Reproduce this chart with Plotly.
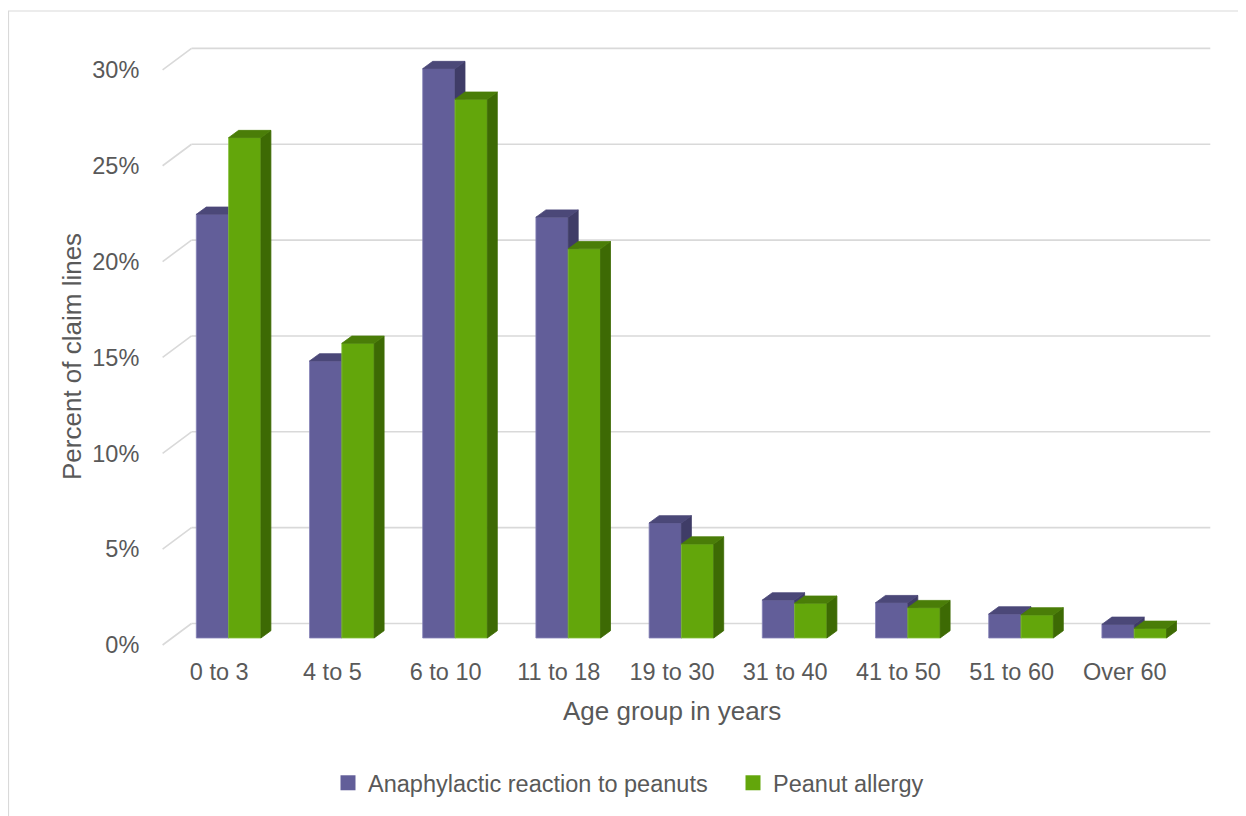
import plotly.graph_objects as go

# ---------------- data ----------------
categories = ["0 to 3", "4 to 5", "6 to 10", "11 to 18", "19 to 30",
              "31 to 40", "41 to 50", "51 to 60", "Over 60"]
anaphylaxis = [22.1, 14.45, 29.7, 21.95, 6.0, 1.98, 1.84, 1.25, 0.71]
peanut_allergy = [26.1, 15.37, 28.1, 20.3, 4.9, 1.81, 1.58, 1.2, 0.5]
y_ticks = [0, 5, 10, 15, 20, 25, 30]
series_names = ["Anaphylactic reaction to peanuts", "Peanut allergy"]

# ---------------- geometry ----------------
# page pixels; the html body has an 8px margin, so the figure starts at (8, 8)
PAGE_W, PAGE_H = 1246, 816
OFF = 8
W, H = PAGE_W - OFF, PAGE_H - OFF        # figure size


def fx(p):   # page x px -> figure x px
    return p - OFF


def fy(p):   # page y px -> figure y px
    return p - OFF


L, R, T, B = 150, 1230, 30, 655          # plot area in page px
CAT0, CATW = 228.6, 113.2                # page px of first category centre, px per category
BASE, PPP = 638.0, 19.17                 # page px of 0% on bar plane, px per percent


def px2x(p):
    return (p - CAT0) / CATW


def py2y(p):
    return (BASE - p) / PPP


x_range = [px2x(L), px2x(R)]
y_range = [py2y(B), py2y(T)]
pw, ph = R - L, B - T


def ppx(p):  # page x px -> paper x
    return (p - L) / pw


def ppy(p):  # page y px -> paper y
    return (B - p) / ph


# 3D offsets
DX, DY = 10 / CATW, 7.3 / PPP            # bar depth
BACK_DX, BACK_DY = 19.5 / CATW, 14.5 / PPP
FRONT_DX, FRONT_DY = -9.4 / CATW, -7.0 / PPP
BAR_W = 32.3 / CATW

FONT = "Liberation Sans, Arial, sans-serif"
TXT = "#595959"
GRID = "#d9d9d9"

colors = {
    0: dict(front="#625E99", top="#4B4878", side="#3F3C67", edge="#8683B8"),
    1: dict(front="#63A60B", top="#4A7D08", side="#3D6A04", edge="#86C03E"),
}


def faces(values, off0, off1):
    fxs, fys, sx, sy, tx, ty = [], [], [], [], [], []
    for i, v in enumerate(values):
        x0, x1 = i + off0, i + off1
        fxs += [x0, x1, x1, x0, x0, None]
        fys += [0, 0, v, v, 0, None]
        sx += [x1, x1 + DX, x1 + DX, x1, x1, None]
        sy += [0, DY, v + DY, v, 0, None]
        tx += [x0, x1, x1 + DX, x0 + DX, x0, None]
        ty += [v, v, v + DY, v + DY, v, None]
    return (fxs, fys), (sx, sy), (tx, ty)


fig = go.Figure()

for k, (vals, offs) in enumerate([(anaphylaxis, (-BAR_W, 0.0)),
                                   (peanut_allergy, (0.0, BAR_W))]):
    c = colors[k]
    front, side, top = faces(vals, *offs)
    for (xs, ys), fc, lc in [(front, c["front"], c["edge"]),
                             (side, c["side"], c["side"]),
                             (top, c["top"], c["top"])]:
        fig.add_trace(go.Scatter(
            x=xs, y=ys, mode="lines", fill="toself", fillcolor=fc,
            line=dict(color=lc, width=0.8), showlegend=False,
            hoverinfo="skip"))

# legend entries
for k, name in enumerate(series_names):
    fig.add_trace(go.Scatter(
        x=[None], y=[None], mode="markers", name=name,
        marker=dict(symbol="square", size=15, color=colors[k]["front"])))

# back-wall gridlines and floor diagonals
shapes = []
n = len(categories)
for t in y_ticks:
    yb = t + BACK_DY
    yf = t + FRONT_DY
    shapes.append(dict(type="line", xref="x", yref="y", layer="below",
                       x0=-0.5 + BACK_DX, x1=n - 0.5 + BACK_DX, y0=yb, y1=yb,
                       line=dict(color=GRID, width=1.6)))
    shapes.append(dict(type="line", xref="x", yref="y", layer="below",
                       x0=-0.5 + BACK_DX, x1=-0.5 + FRONT_DX, y0=yb, y1=yf,
                       line=dict(color=GRID, width=1.6)))

# chart border
shapes.append(dict(type="rect", xref="paper", yref="paper", layer="below",
                   x0=ppx(8.5), x1=ppx(PAGE_W + 5),
                   y0=ppy(PAGE_H + 5), y1=ppy(11),
                   line=dict(color=GRID, width=1.2)))

fig.update_layout(
    width=W, height=H,
    margin=dict(l=fx(L), r=W - fx(R), t=fy(T), b=H - fy(B)),
    paper_bgcolor="white", plot_bgcolor="white",
    font=dict(family=FONT, color=TXT, size=23.5),
    showlegend=True,
    legend=dict(orientation="h", xref="container", yref="container",
                x=fx(328) / W, y=1 - fy(783) / H, xanchor="left", yanchor="middle",
                entrywidth=360, entrywidthmode="pixels",
                font=dict(size=23.5, color=TXT), itemclick=False),
    xaxis=dict(range=x_range, showgrid=False, zeroline=False, showline=False,
               tickmode="array", tickvals=[i + FRONT_DX for i in range(n)],
               ticktext=categories, ticks="", tickfont=dict(size=23.5, color=TXT)),
    yaxis=dict(range=y_range, showgrid=False, zeroline=False, showline=False,
               tickmode="array", tickvals=[t + FRONT_DY for t in y_ticks],
               ticktext=[f"{t}%" for t in y_ticks], ticks="outside", ticklen=5,
               tickcolor="rgba(0,0,0,0)", tickfont=dict(size=23.5, color=TXT)),
    shapes=shapes,
    annotations=[
        dict(text="Age group in years", xref="paper", yref="paper",
             x=ppx(672), y=ppy(711), xanchor="center", yanchor="middle",
             showarrow=False, font=dict(size=26, color=TXT)),
        dict(text="Percent of claim lines", xref="paper", yref="paper",
             x=ppx(72), y=ppy(357), xanchor="center", yanchor="middle",
             textangle=-90, showarrow=False, font=dict(size=26, color=TXT)),
    ],
)

fig.write_html("out.html")
